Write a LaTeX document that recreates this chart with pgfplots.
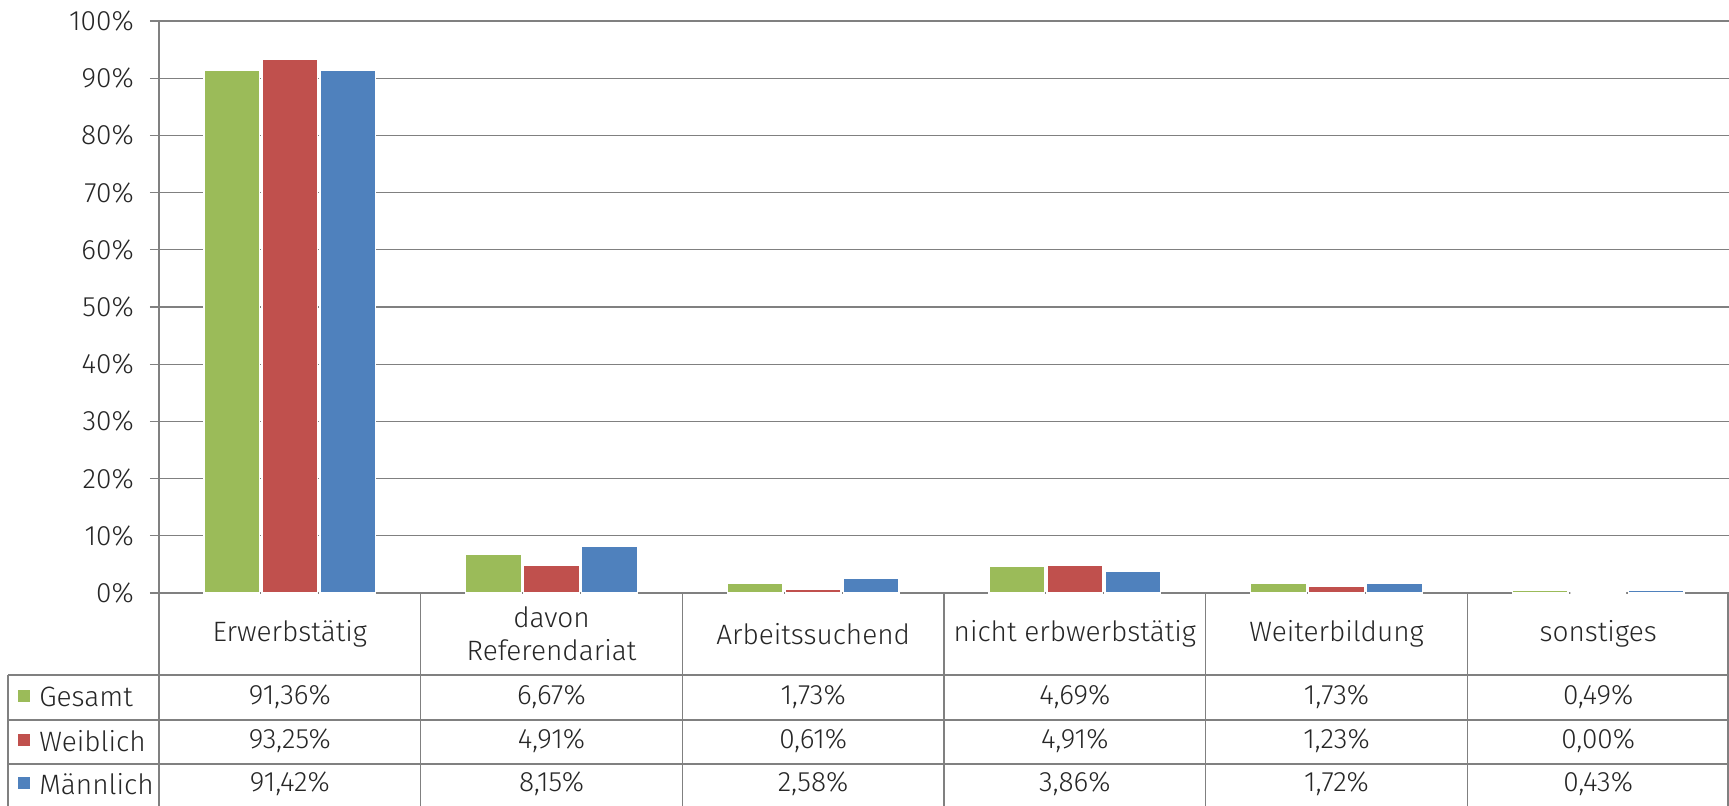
\documentclass[border=0pt]{standalone}
\usepackage{fontspec}
\setmainfont{Fira Sans}[UprightFont=* Light]
\usepackage{pgfplots}
\pgfplotsset{compat=1.18}
\definecolor{cG}{HTML}{9BBB59}
\definecolor{cW}{HTML}{C0504D}
\definecolor{cM}{HTML}{4F81BD}
\definecolor{gl}{HTML}{808080}
\definecolor{txt}{HTML}{262626}
\begin{document}
\begin{tikzpicture}[font=\fontsize{14}{16.5}\selectfont, text=txt]
\begin{axis}[
  scale only axis, width=785pt, height=286pt,
  xmin=-0.5, xmax=5.5, ymin=0, ymax=100,
  ybar, bar width=0.213,
  axis y line*=left, axis x line*=bottom,
  axis line style={-, draw=gl, line width=0.8pt},
  xtick=\empty, ytick={0,10,...,100},
  yticklabel={\pgfmathprintnumber{\tick}\%},
  /pgf/number format/assume math mode=true,
  ymajorgrids, major grid style={draw=gl, line width=0.6pt},
  tick align=outside, major tick length=4.5pt,
  ytick style={draw=gl, line width=0.6pt},
  yticklabel style={font=\fontsize{14}{16.5}\selectfont, text=txt, xshift=-4.6pt},
  clip=false,
]
\addplot[fill=cG, draw=white, line width=0.6pt, bar shift=-0.2215] coordinates {(0,91.36) (1,6.67) (2,1.73) (3,4.69) (4,1.73) (5,0.49)};
\addplot[fill=cW, draw=white, line width=0.6pt, bar shift=0] coordinates {(0,93.25) (1,4.91) (2,0.61) (3,4.91) (4,1.23) (5,0.00)};
\addplot[fill=cM, draw=white, line width=0.6pt, bar shift=0.2215] coordinates {(0,91.42) (1,8.15) (2,2.58) (3,3.86) (4,1.72) (5,0.43)};

% table grid
\draw[gl, line width=0.8pt] ([xshift=-75.5pt,yshift=-41pt]axis cs:-0.5,0) -- ([yshift=-41pt]axis cs:5.5,0);
\draw[gl, line width=0.8pt] ([xshift=-75.5pt,yshift=-63.5pt]axis cs:-0.5,0) -- ([yshift=-63.5pt]axis cs:5.5,0);
\draw[gl, line width=0.8pt] ([xshift=-75.5pt,yshift=-85.5pt]axis cs:-0.5,0) -- ([yshift=-85.5pt]axis cs:5.5,0);
\draw[gl, line width=0.8pt] ([xshift=-75.5pt,yshift=-41pt]axis cs:-0.5,0) -- ([xshift=-75.5pt,yshift=-107pt]axis cs:-0.5,0);
\draw[gl, line width=0.8pt] (axis cs:-0.5,0) -- ([yshift=-107pt]axis cs:-0.5,0);
\draw[gl, line width=0.8pt] (axis cs:0.5,0) -- ([yshift=-107pt]axis cs:0.5,0);
\draw[gl, line width=0.8pt] (axis cs:1.5,0) -- ([yshift=-107pt]axis cs:1.5,0);
\draw[gl, line width=0.8pt] (axis cs:2.5,0) -- ([yshift=-107pt]axis cs:2.5,0);
\draw[gl, line width=0.8pt] (axis cs:3.5,0) -- ([yshift=-107pt]axis cs:3.5,0);
\draw[gl, line width=0.8pt] (axis cs:4.5,0) -- ([yshift=-107pt]axis cs:4.5,0);
\draw[gl, line width=0.8pt] ([xshift=-0.5pt]axis cs:5.5,0) -- ([xshift=-0.5pt,yshift=-107pt]axis cs:5.5,0);

% category names
\node[align=center] at ([yshift=-20.5pt]axis cs:0,0) {Erwerbstätig};
\node[align=center] at ([yshift=-20.5pt]axis cs:1,0) {davon\\Referendariat};
\node[align=center] at ([yshift=-20.5pt]axis cs:2,0) {Arbeitssuchend};
\node[align=center] at ([yshift=-20.5pt]axis cs:3,0) {nicht erbwerbstätig};
\node[align=center] at ([yshift=-20.5pt]axis cs:4,0) {Weiterbildung};
\node[align=center] at ([yshift=-20.5pt]axis cs:5,0) {sonstiges};

% series labels
\fill[cG] ([xshift=-70.5pt,yshift=-54.5pt]axis cs:-0.5,0) rectangle ++(6pt,6pt);
\fill[cW] ([xshift=-70.5pt,yshift=-76.5pt]axis cs:-0.5,0) rectangle ++(6pt,6pt);
\fill[cM] ([xshift=-70.5pt,yshift=-98pt]axis cs:-0.5,0) rectangle ++(6pt,6pt);
\node[anchor=west, inner sep=0pt] at ([xshift=-60pt,yshift=-52pt]axis cs:-0.5,0) {Gesamt};
\node[anchor=west, inner sep=0pt] at ([xshift=-60pt,yshift=-74pt]axis cs:-0.5,0) {Weiblich};
\node[anchor=west, inner sep=0pt] at ([xshift=-60pt,yshift=-95.5pt]axis cs:-0.5,0) {Männlich};

% values
\node at ([yshift=-52pt]axis cs:0,0) {91,36\%};
\node at ([yshift=-52pt]axis cs:1,0) {6,67\%};
\node at ([yshift=-52pt]axis cs:2,0) {1,73\%};
\node at ([yshift=-52pt]axis cs:3,0) {4,69\%};
\node at ([yshift=-52pt]axis cs:4,0) {1,73\%};
\node at ([yshift=-52pt]axis cs:5,0) {0,49\%};
\node at ([yshift=-74pt]axis cs:0,0) {93,25\%};
\node at ([yshift=-74pt]axis cs:1,0) {4,91\%};
\node at ([yshift=-74pt]axis cs:2,0) {0,61\%};
\node at ([yshift=-74pt]axis cs:3,0) {4,91\%};
\node at ([yshift=-74pt]axis cs:4,0) {1,23\%};
\node at ([yshift=-74pt]axis cs:5,0) {0,00\%};
\node at ([yshift=-95.5pt]axis cs:0,0) {91,42\%};
\node at ([yshift=-95.5pt]axis cs:1,0) {8,15\%};
\node at ([yshift=-95.5pt]axis cs:2,0) {2,58\%};
\node at ([yshift=-95.5pt]axis cs:3,0) {3,86\%};
\node at ([yshift=-95.5pt]axis cs:4,0) {1,72\%};
\node at ([yshift=-95.5pt]axis cs:5,0) {0,43\%};

\coordinate (BL) at ([xshift=-79.5pt,yshift=-106pt]axis cs:-0.5,0);
\coordinate (TR) at ([yshift=10.5pt]axis cs:5.5,100);
\end{axis}
\pgfresetboundingbox
\path[use as bounding box] (BL) rectangle (TR);
\end{tikzpicture}
\end{document}
